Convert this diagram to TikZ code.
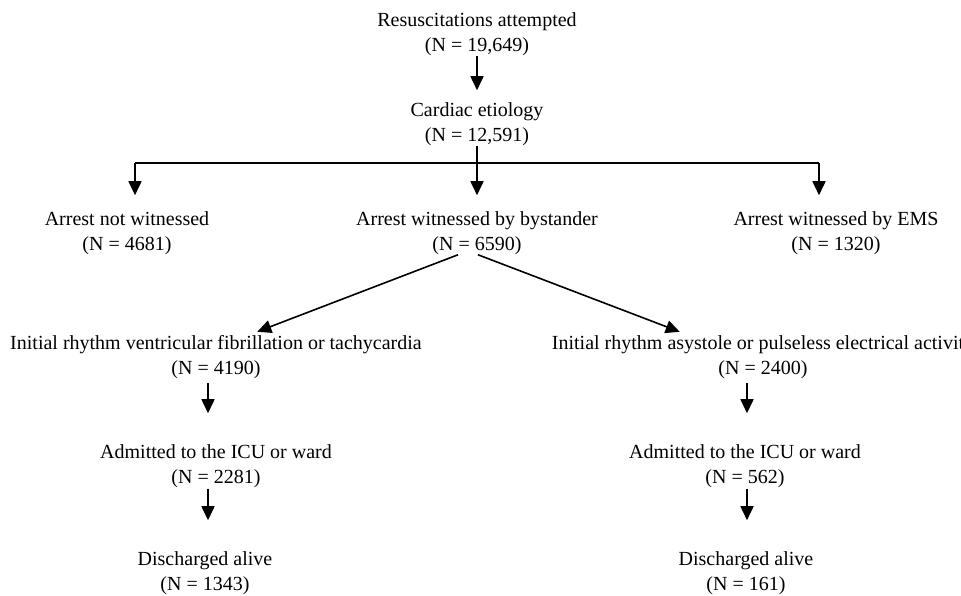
\documentclass[tikz,border=0pt]{standalone}
\usepackage{fontspec}
\setmainfont{Liberation Serif}
\usetikzlibrary{arrows.meta}
\begin{document}
\begin{tikzpicture}[x=1pt, y=-1pt,
    box/.style={align=center, inner sep=0pt, font=\fontsize{20}{25}\selectfont},
    flow/.style={-{Triangle[width=13pt,length=14pt]}, line width=1.6pt}]
    \useasboundingbox (0,0) rectangle (961,595);
    \clip (0,0) rectangle (961,595);

    % nodes
    \node[box] (start) at (477,34.5) {Resuscitations attempted\\(N = 19,649)};
    \node[box] (cardiac) at (477,124) {Cardiac etiology\\(N = 12,591)};
    \node[box] (nowit) at (127,233) {Arrest not witnessed\\(N = 4681)};
    \node[box] (bystander) at (477,233) {Arrest witnessed by bystander\\(N = 6590)};
    \node[box] (ems) at (836,233) {Arrest witnessed by EMS\\(N = 1320)};
    \node[box] (vf) at (216,357.5) {Initial rhythm ventricular fibrillation or tachycardia\\(N = 4190)};
    \node[box] (asys) at (763,357.5) {Initial rhythm asystole or pulseless electrical activity\\(N = 2400)};
    \node[box] (admvf) at (216,466) {Admitted to the ICU or ward\\(N = 2281)};
    \node[box] (admas) at (745,466) {Admitted to the ICU or ward\\(N = 562)};
    \node[box] (disvf) at (205,573) {Discharged alive\\(N = 1343)};
    \node[box] (disas) at (746,573) {Discharged alive\\(N = 161)};

    % split below cardiac etiology
    \coordinate (split) at (477,163);
    \coordinate (splitl) at (135,163);
    \coordinate (splitr) at (819,163);
    % columns of the two rhythm branches
    \coordinate (coll) at (208,0);
    \coordinate (colr) at (747,0);

    \draw[flow, shorten >=12pt] (start) -- (cardiac);
    \draw[line width=1.6pt] (cardiac.south) -- (split);
    \draw[line width=1.6pt] (splitl) -- (splitr);
    \draw[flow, shorten >=16pt] (splitl) -- (splitl |- nowit.north);
    \draw[flow, shorten >=16pt] (split) -- (split |- bystander.north);
    \draw[flow, shorten >=16pt] (splitr) -- (splitr |- ems.north);

    \draw[flow, shorten >=11pt] ([xshift=-19pt]bystander.south) -- ([xshift=31pt]vf.north);
    \draw[flow, shorten >=11pt] ([xshift=1pt]bystander.south) -- ([xshift=-73pt]asys.north);

    \draw[flow, shorten <=4pt, shorten >=31pt] (vf.south -| coll) -- (admvf.north -| coll);
    \draw[flow, shorten <=4pt, shorten >=31pt] (asys.south -| colr) -- (admas.north -| colr);
    \draw[flow, shorten <=1pt, shorten >=31pt] (admvf.south -| coll) -- (disvf.north -| coll);
    \draw[flow, shorten <=1pt, shorten >=31pt] (admas.south -| colr) -- (disas.north -| colr);
\end{tikzpicture}
\end{document}
